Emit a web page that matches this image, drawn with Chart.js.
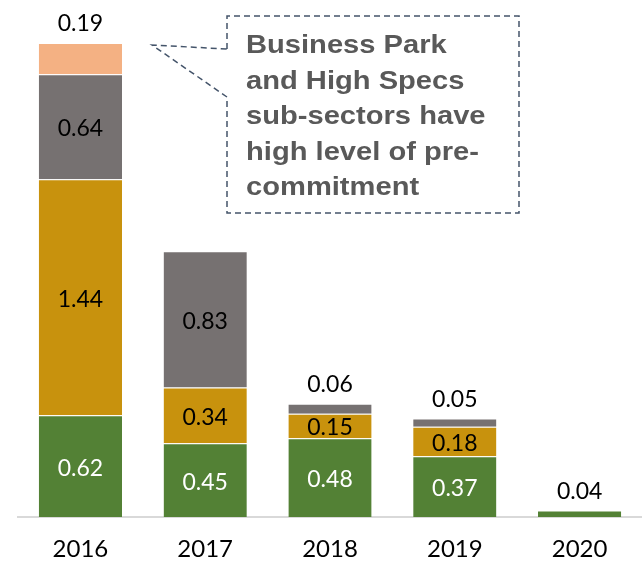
<!DOCTYPE html>
<html>
<head>
<meta charset="utf-8">
<script src="https://cdn.jsdelivr.net/npm/chart.js@4/dist/chart.umd.min.js"></script>
<style>
  html, body { margin: 0; padding: 0; background: #ffffff; }
  #wrap { position: relative; width: 642px; height: 566px; }
</style>
</head>
<body>
<div id="wrap"><canvas id="c" width="642" height="566"></canvas></div>
<script>
// Completions by year (million sq ft), stacked by sub-sector
const years = ['2016', '2017', '2018', '2019', '2020'];
const seriesGreen = [0.62, 0.45, 0.48, 0.37, 0.04];
const seriesGold  = [1.44, 0.34, 0.15, 0.18, 0];
const seriesGrey  = [0.64, 0.83, 0.06, 0.05, 0];
const seriesPeach = [0.19, 0, 0, 0, 0];

const calloutLines = [
  'Business Park',
  'and High Specs',
  'sub-sectors have',
  'high level of pre-',
  'commitment'
];

const LABEL_FONT = '23px Lato, "Open Sans", sans-serif';

// Value labels: inside each segment, or above the stack when the top segment is thin
const valueLabels = {
  id: 'valueLabels',
  afterDatasetsDraw(chart) {
    const ctx = chart.ctx;
    const sets = chart.data.datasets;
    ctx.save();
    ctx.font = LABEL_FONT;
    ctx.textAlign = 'center';
    ctx.textBaseline = 'middle';
    sets.forEach((ds, i) => {
      const meta = chart.getDatasetMeta(i);
      ds.data.forEach((v, j) => {
        if (!v) return;
        const bar = meta.data[j];
        let isTop = true;
        for (let k = i + 1; k < sets.length; k++) {
          if (sets[k].data[j]) { isTop = false; break; }
        }
        const h = bar.base - bar.y;
        let y, color;
        if (isTop && h < 36) {
          y = bar.y - 19;
          color = '#000000';
        } else {
          y = (bar.y + bar.base) / 2 + 2;
          color = ds.labelColor;
        }
        ctx.fillStyle = color;
        ctx.fillText(v.toFixed(2), bar.x, y);
      });
    });
    ctx.restore();
  }
};

// Dashed callout box with a pointer toward the 2016 stack
const callout = {
  id: 'callout',
  afterDraw(chart) {
    const ctx = chart.ctx;
    const box = { l: 227, t: 16, r: 519, b: 213 };
    const topMeta = chart.getDatasetMeta(chart.data.datasets.length - 1);
    const tipBar = topMeta.data[0];
    const tip = { x: tipBar.x + tipBar.width / 2 + 30, y: tipBar.y + 2 };
    ctx.save();
    ctx.strokeStyle = '#44546A';
    ctx.lineWidth = 1.5;
    ctx.setLineDash([6, 4]);
    ctx.beginPath();
    ctx.moveTo(box.l, 49);
    ctx.lineTo(box.l, box.t);
    ctx.lineTo(box.r, box.t);
    ctx.lineTo(box.r, box.b);
    ctx.lineTo(box.l, box.b);
    ctx.lineTo(box.l, 97);
    ctx.lineTo(tip.x, tip.y);
    ctx.lineTo(box.l, 49);
    ctx.stroke();
    ctx.setLineDash([]);

    ctx.fillStyle = '#595959';
    ctx.font = 'bold 26px "Liberation Sans", Arial, sans-serif';
    ctx.textAlign = 'left';
    ctx.textBaseline = 'alphabetic';
    calloutLines.forEach((line, i) => {
      ctx.save();
      ctx.translate(246, 53 + i * 35.5);
      ctx.scale(1.12, 1);
      ctx.fillText(line, 0, 0);
      ctx.restore();
    });
    ctx.restore();
  }
};

const segBorder = { top: 1, left: 0, right: 0, bottom: 0 };

new Chart(document.getElementById('c'), {
  type: 'bar',
  data: {
    labels: years,
    datasets: [
      { data: seriesGreen, backgroundColor: '#538135', labelColor: '#ffffff', borderColor: 'rgba(255,255,255,0.35)', borderWidth: segBorder },
      { data: seriesGold,  backgroundColor: '#C8920D', labelColor: '#000000', borderColor: 'rgba(255,255,255,0.35)', borderWidth: segBorder },
      { data: seriesGrey,  backgroundColor: '#767171', labelColor: '#000000', borderColor: 'rgba(255,255,255,0.35)', borderWidth: segBorder },
      { data: seriesPeach, backgroundColor: '#F4B183', labelColor: '#000000', borderColor: 'rgba(255,255,255,0.35)', borderWidth: segBorder }
    ]
  },
  options: {
    responsive: false,
    animation: false,
    events: [],
    layout: { padding: { left: 18, right: 0, top: 25, bottom: 0 } },
    datasets: { bar: { barPercentage: 0.667, categoryPercentage: 1, borderSkipped: false } },
    plugins: { legend: { display: false }, tooltip: { enabled: false } },
    scales: {
      x: {
        stacked: true,
        grid: { display: false, drawTicks: false },
        border: { display: true, color: '#D9D9D9', width: 2 },
        ticks: { color: '#000000', font: { family: 'Lato, "Open Sans", sans-serif', size: 24 }, padding: 18 },
        afterFit(scale) { scale.height = 49; }
      },
      y: {
        stacked: true,
        display: false,
        min: 0,
        max: 3
      }
    }
  },
  plugins: [valueLabels, callout]
});
</script>
</body>
</html>
